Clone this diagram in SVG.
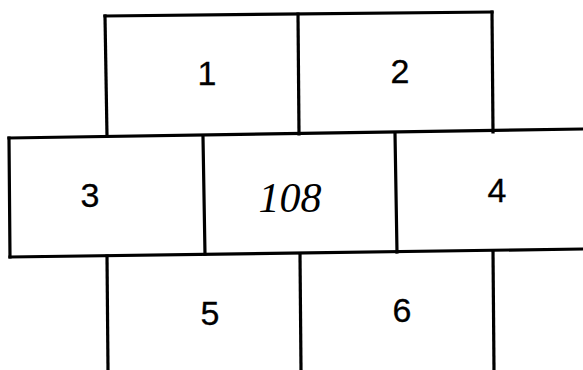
<svg xmlns="http://www.w3.org/2000/svg" width="583" height="370" viewBox="0 0 583 370">
<style>
.ln{stroke:#000;stroke-width:3.2;fill:none;stroke-linecap:square}
.lb{font-family:"Liberation Sans",Arial,sans-serif;font-size:34px;fill:#000;stroke:#000;stroke-width:0.3;text-anchor:middle}
.hw{font-family:"Liberation Serif","Times New Roman",serif;font-style:italic;font-size:42px;fill:#000;text-anchor:middle}
</style>
<rect width="583" height="370" fill="#fff"/>
<g id="connectors">
<path class="ln" d="M105,16 L492,12"/>
<path class="ln" d="M9,138 L583,129"/>
<path class="ln" d="M10,257 L583,249"/>
<path class="ln" d="M105,16 L107,136"/>
<path class="ln" d="M298,14 L299,134"/>
<path class="ln" d="M492,12 L493,132"/>
<path class="ln" d="M9,138 L10,257"/>
<path class="ln" d="M203,137 L205,254"/>
<path class="ln" d="M395,133 L397,252"/>
<path class="ln" d="M107,256 L108,370"/>
<path class="ln" d="M300,254 L301,370"/>
<path class="ln" d="M493,251 L494,370"/>
</g>
<g id="node1"><text class="lb" x="207" y="85">1</text></g>
<g id="node2"><text class="lb" x="400" y="83">2</text></g>
<g id="node3"><text class="lb" x="90" y="207">3</text></g>
<g id="node108"><text class="hw" x="290" y="212">108</text></g>
<g id="node4"><text class="lb" x="497" y="202">4</text></g>
<g id="node5"><text class="lb" x="210" y="325">5</text></g>
<g id="node6"><text class="lb" x="402" y="322">6</text></g>
</svg>
